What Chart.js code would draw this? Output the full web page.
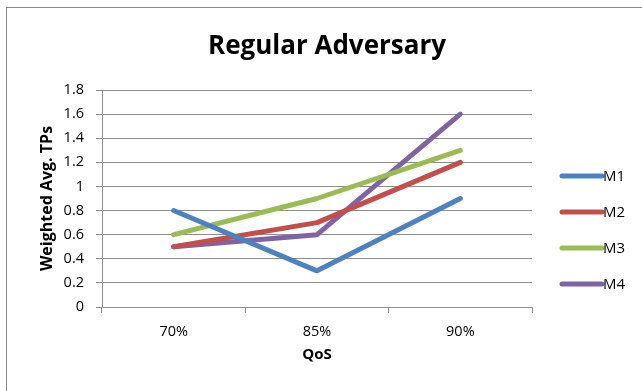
<!DOCTYPE html>
<html>
<head>
<meta charset="utf-8">
<script src="https://cdn.jsdelivr.net/npm/chart.js@4/dist/chart.umd.min.js"></script>
<style>
  html, body { margin: 0; padding: 0; background: #fff; }
  #wrap { position: relative; width: 642px; height: 391px; }
</style>
</head>
<body>
<div id="wrap"><canvas id="chart" width="642" height="391"></canvas></div>
<script>
// QoS levels on the x axis
const categories = ['70%', '85%', '90%'];

// Weighted average TPs per method
const seriesNames = ['M1', 'M2', 'M3', 'M4'];
const m1 = [0.8, 0.3, 0.9];
const m2 = [0.5, 0.7, 1.2];
const m3 = [0.6, 0.9, 1.3];
const m4 = [0.5, 0.6, 1.6];

// y axis range and step
const yMin = 0;
const yMax = 1.8;
const yStep = 0.2;

const colors = ['#4F81BD', '#C0504D', '#9BBB59', '#8064A2'];
const FONT = '"Open Sans", Lato, "DejaVu Sans", sans-serif';
const AXIS_GREY = '#8E8E8E';

const datasets = [m1, m2, m3, m4].map((vals, i) => ({
  label: seriesNames[i],
  data: vals,
  borderColor: colors[i],
  backgroundColor: colors[i],
  borderWidth: 5,
  borderCapStyle: 'round',
  borderJoinStyle: 'round',
  pointRadius: 0,
  pointHoverRadius: 0,
  tension: 0,
  fill: false
}));

// Frame, heading and right-hand legend
const decorations = {
  id: 'decorations',
  beforeDraw(chart) {
    const ctx = chart.ctx;
    ctx.save();
    ctx.strokeStyle = '#8A8A8A';
    ctx.lineWidth = 1;
    ctx.strokeRect(6.5, 7.5, 800, 600);
    ctx.restore();
  },
  afterDraw(chart) {
    const ctx = chart.ctx;
    ctx.save();
    ctx.fillStyle = '#000';
    ctx.font = 'bold 26px ' + FONT;
    ctx.textAlign = 'center';
    ctx.textBaseline = 'middle';
    ctx.fillText('Regular Adversary', 327, 47);

    const items = chart.data.datasets;
    const x0 = 562, x1 = 602;
    const yStart = 176, gap = 36;
    ctx.font = '15px ' + FONT;
    ctx.textAlign = 'left';
    items.forEach((ds, i) => {
      const y = yStart + i * gap;
      ctx.strokeStyle = ds.borderColor;
      ctx.lineWidth = 5;
      ctx.lineCap = 'round';
      ctx.beginPath();
      ctx.moveTo(x0, y);
      ctx.lineTo(x1, y);
      ctx.stroke();
      ctx.fillStyle = '#000';
      ctx.fillText(ds.label, x1 + 1, y + 1);
    });
    ctx.restore();
  }
};

new Chart(document.getElementById('chart'), {
  type: 'line',
  data: { labels: categories, datasets },
  plugins: [decorations],
  options: {
    responsive: false,
    animation: false,
    layout: { padding: { top: 90, right: 110, bottom: 0, left: 0 } },
    plugins: {
      legend: { display: false },
      title: { display: false },
      tooltip: { enabled: false }
    },
    scales: {
      x: {
        type: 'category',
        offset: true,
        afterFit(scale) { scale.height = 84; },
        grid: {
          offset: true,
          drawOnChartArea: false,
          drawTicks: true,
          tickLength: 6,
          color: AXIS_GREY
        },
        border: { color: AXIS_GREY, width: 1 },
        ticks: {
          color: '#000',
          font: { family: FONT, size: 14.5 },
          padding: 10,
          maxRotation: 0
        },
        title: {
          display: true,
          text: 'QoS',
          color: '#000',
          font: { family: FONT, size: 15, weight: 'bold' },
          padding: { top: 0, bottom: 27 }
        }
      },
      y: {
        min: yMin,
        max: yMax,
        afterFit(scale) { scale.width = 102; },
        grid: {
          color: AXIS_GREY,
          drawTicks: true,
          tickLength: 6
        },
        border: { color: AXIS_GREY, width: 1 },
        ticks: {
          stepSize: yStep,
          color: '#000',
          font: { family: FONT, size: 14.5 },
          padding: 12,
          callback: (v) => String(Math.round(v * 10) / 10)
        },
        title: {
          display: true,
          text: 'Weighted Avg. TPs',
          color: '#000',
          font: { family: FONT, size: 16, weight: 'bold' },
          padding: { top: 38, bottom: 0 }
        }
      }
    }
  }
});
</script>
</body>
</html>
